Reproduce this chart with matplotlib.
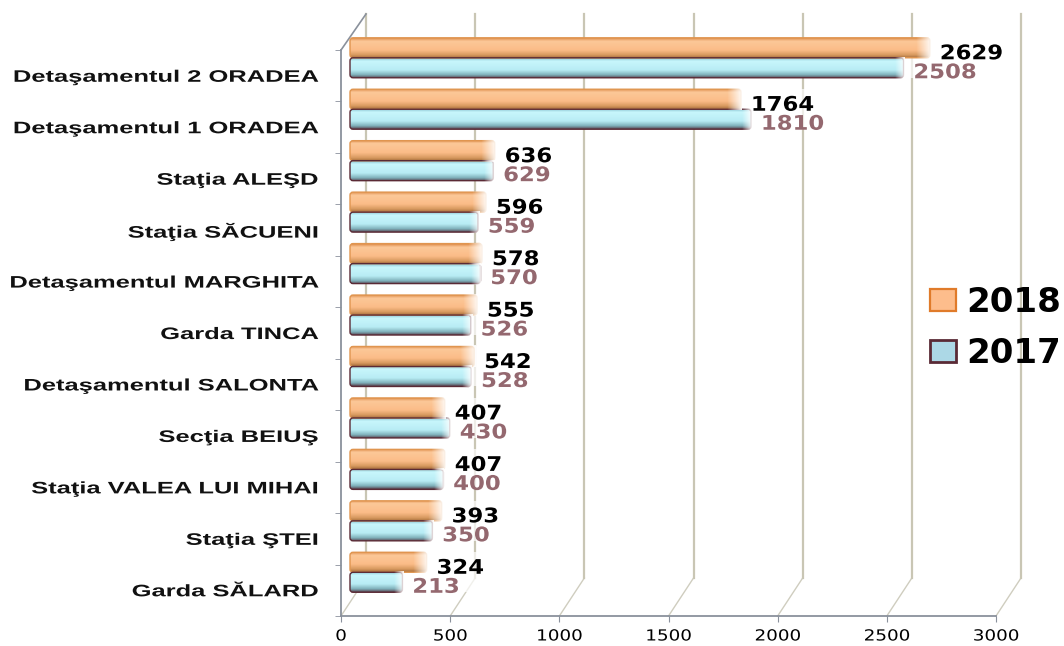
import matplotlib
matplotlib.use('Agg')
import matplotlib.pyplot as plt
import matplotlib.patheffects as pe
import numpy as np
from matplotlib.colors import LinearSegmentedColormap
from matplotlib.patches import FancyBboxPatch, Patch
from matplotlib.transforms import Affine2D

categories = ['Detaşamentul 2 ORADEA', 'Detaşamentul 1 ORADEA', 'Staţia ALEŞD', 'Staţia SĂCUENI',
              'Detaşamentul MARGHITA', 'Garda TINCA', 'Detaşamentul SALONTA', 'Secţia BEIUŞ',
              'Staţia VALEA LUI MIHAI', 'Staţia ŞTEI', 'Garda SĂLARD']
values_2018 = [2629, 1764, 636, 596, 578, 555, 542, 407, 407, 393, 324]
values_2017 = [2508, 1810, 629, 559, 570, 526, 528, 430, 400, 350, 213]
x_ticks = [0, 500, 1000, 1500, 2000, 2500, 3000]

W, H = 1064, 646
# pixel sizes of one data unit, the axes run from x=341..996 and y=14..616
px_x = (996 - 341) / 3000
px_y = 51.45
dx = lambda p: p / px_x
dy = lambda p: p / px_y


class Stretch(pe.AbstractPathEffect):
    # the text in the reference is wider than any installed font, so widen the glyphs
    def __init__(self, sx, anchor=0.0):
        super().__init__()
        self.sx = sx
        self.anchor = anchor

    def draw_path(self, renderer, gc, tpath, affine, rgbFace=None):
        ext = tpath.get_extents()
        x0 = ext.x0 + self.anchor * ext.width
        t = Affine2D().translate(-x0, 0).scale(self.sx, 1).translate(x0, 0)
        renderer.draw_path(gc, tpath, t + affine, rgbFace)


orange_cmap = LinearSegmentedColormap.from_list(
    'o', [(0, '#e09050'), (0.15, '#fcc898'), (0.6, '#fbbc88'), (0.85, '#d89a60'), (1, '#a8703c')])
blue_cmap = LinearSegmentedColormap.from_list(
    'b', [(0, '#8fc8d4'), (0.15, '#c8f6fc'), (0.6, '#b8ecf4'), (0.85, '#7fb0ba'), (1, '#5a4a55')])

fig = plt.figure(figsize=(W / 100, H / 100), dpi=100)
ax = fig.add_axes([341 / W, 1 - 616 / H, (996 - 341) / W, (616 - 14) / H])
top = -0.5 + 602 / px_y
depth_x, depth_y = dx(25), dy(38)

# back wall and floor lines
grid_col = '#c9c6b4'
for t in x_ticks:
    ax.plot([t, t + depth_x], [-0.5, -0.5 + depth_y], color='#cfcdbf', lw=1, zorder=1, clip_on=False)
    ax.plot([t + depth_x] * 2, [-0.5 + depth_y, top], color=grid_col, lw=1.6, zorder=1, clip_on=False)
ax.plot([0, depth_x], [10.5, top], color='#8a919c', lw=1.2, zorder=2, clip_on=False)


def draw_bar(y_top, value, cmap, edge, fade_px):
    # y_top in data units, bar 20 px tall
    x0 = dx(9)
    x1 = x0 + value + dx(6)
    style = 'round,pad=0,rounding_size=%f' % dx(3)
    box = FancyBboxPatch((x0, y_top - dy(20)), x1 - x0, dy(20), boxstyle=style,
                         mutation_aspect=dy(3) / dx(3), fc='none', ec='none', zorder=3)
    ax.add_patch(box)
    grad = np.linspace(0, 1, 64).reshape(-1, 1)
    im = ax.imshow(grad, cmap=cmap, aspect='auto', extent=(x0, x1, y_top - dy(20), y_top),
                   origin='upper', zorder=3)
    im.set_clip_path(box)
    ax.add_patch(FancyBboxPatch((x0, y_top - dy(20)), x1 - x0, dy(20), boxstyle=style,
                                mutation_aspect=dy(3) / dx(3), fc='none', ec=edge, lw=1.0, zorder=4))
    # pale glossy end of the bar
    fade = np.ones((1, 32, 4))
    fade[0, :, 3] = np.linspace(0, 0.92, 32)
    ax.imshow(fade, aspect='auto', extent=(x1 - dx(fade_px), x1 + dx(1), y_top - dy(21), y_top + dy(1)),
              zorder=5)


n = len(categories)
wide = [Stretch(1.13)]
for i, (a, b) in enumerate(zip(values_2018, values_2017)):
    y = n - 1 - i
    # soft white patch behind the value labels
    ax.barh(y + dy(18), dx(78), height=dy(40), left=dx(9) + min(a, b) + dx(8), color='white', alpha=0.7, zorder=2)
    # the 3D effect lifts the bars above the tick centres
    draw_bar(y + dy(38), a, orange_cmap, '#e0954f', 14)
    draw_bar(y + dy(18), b, blue_cmap, '#5a2a35', 9)
    ax.text(dx(9) + a + dx(16), y + dy(22), str(a), color='black', fontsize=14.5, fontweight='bold',
            va='center', ha='left', zorder=6, path_effects=wide)
    ax.text(dx(9) + b + dx(16), y + dy(3), str(b), color='#94686f', fontsize=14.5, fontweight='bold',
            va='center', ha='left', zorder=6, path_effects=wide)

ax.set_xlim(0, 3000)
ax.set_ylim(-0.5, top)
ax.patch.set_visible(False)
for s in ['top', 'right']:
    ax.spines[s].set_visible(False)
for s in ['left', 'bottom']:
    ax.spines[s].set_color('#8a919c')
    ax.spines[s].set_linewidth(1.3)
ax.spines['left'].set_bounds(-0.5, 10.5)

ax.set_xticks(x_ticks)
ax.tick_params(axis='x', length=4, color='#8a919c', labelsize=11, pad=5)
for lab in ax.get_xticklabels():
    lab.set_path_effects([Stretch(1.2, 0.5)])
ax.set_yticks(np.arange(n))
ax.set_yticklabels(categories[::-1], fontsize=12, fontweight='bold', color='#111111', family='Liberation Sans')
ax.tick_params(axis='y', which='major', length=0, pad=16.5)
for lab in ax.get_yticklabels():
    lab.set_path_effects([Stretch(1.53, 1.0)])
ax.set_yticks(np.arange(n + 1) - 0.5, minor=True)
ax.tick_params(axis='y', which='minor', length=4, color='#8a919c')

handles = [Patch(fc='#fdbd8c', ec='#e07b2a', lw=1.6, label='2018'),
           Patch(fc='#acd8e6', ec='#5a2a35', lw=2, label='2017')]
leg = fig.legend(handles=handles, loc='center left', bbox_to_anchor=(930 / W, 1 - 328 / H), frameon=False,
                 prop=dict(size=24.5, weight='bold'), handlelength=0.77, handleheight=0.59, handletextpad=0.3,
                 labelspacing=0.53, borderpad=0, borderaxespad=0)

fig.savefig('out.png', dpi=100)
